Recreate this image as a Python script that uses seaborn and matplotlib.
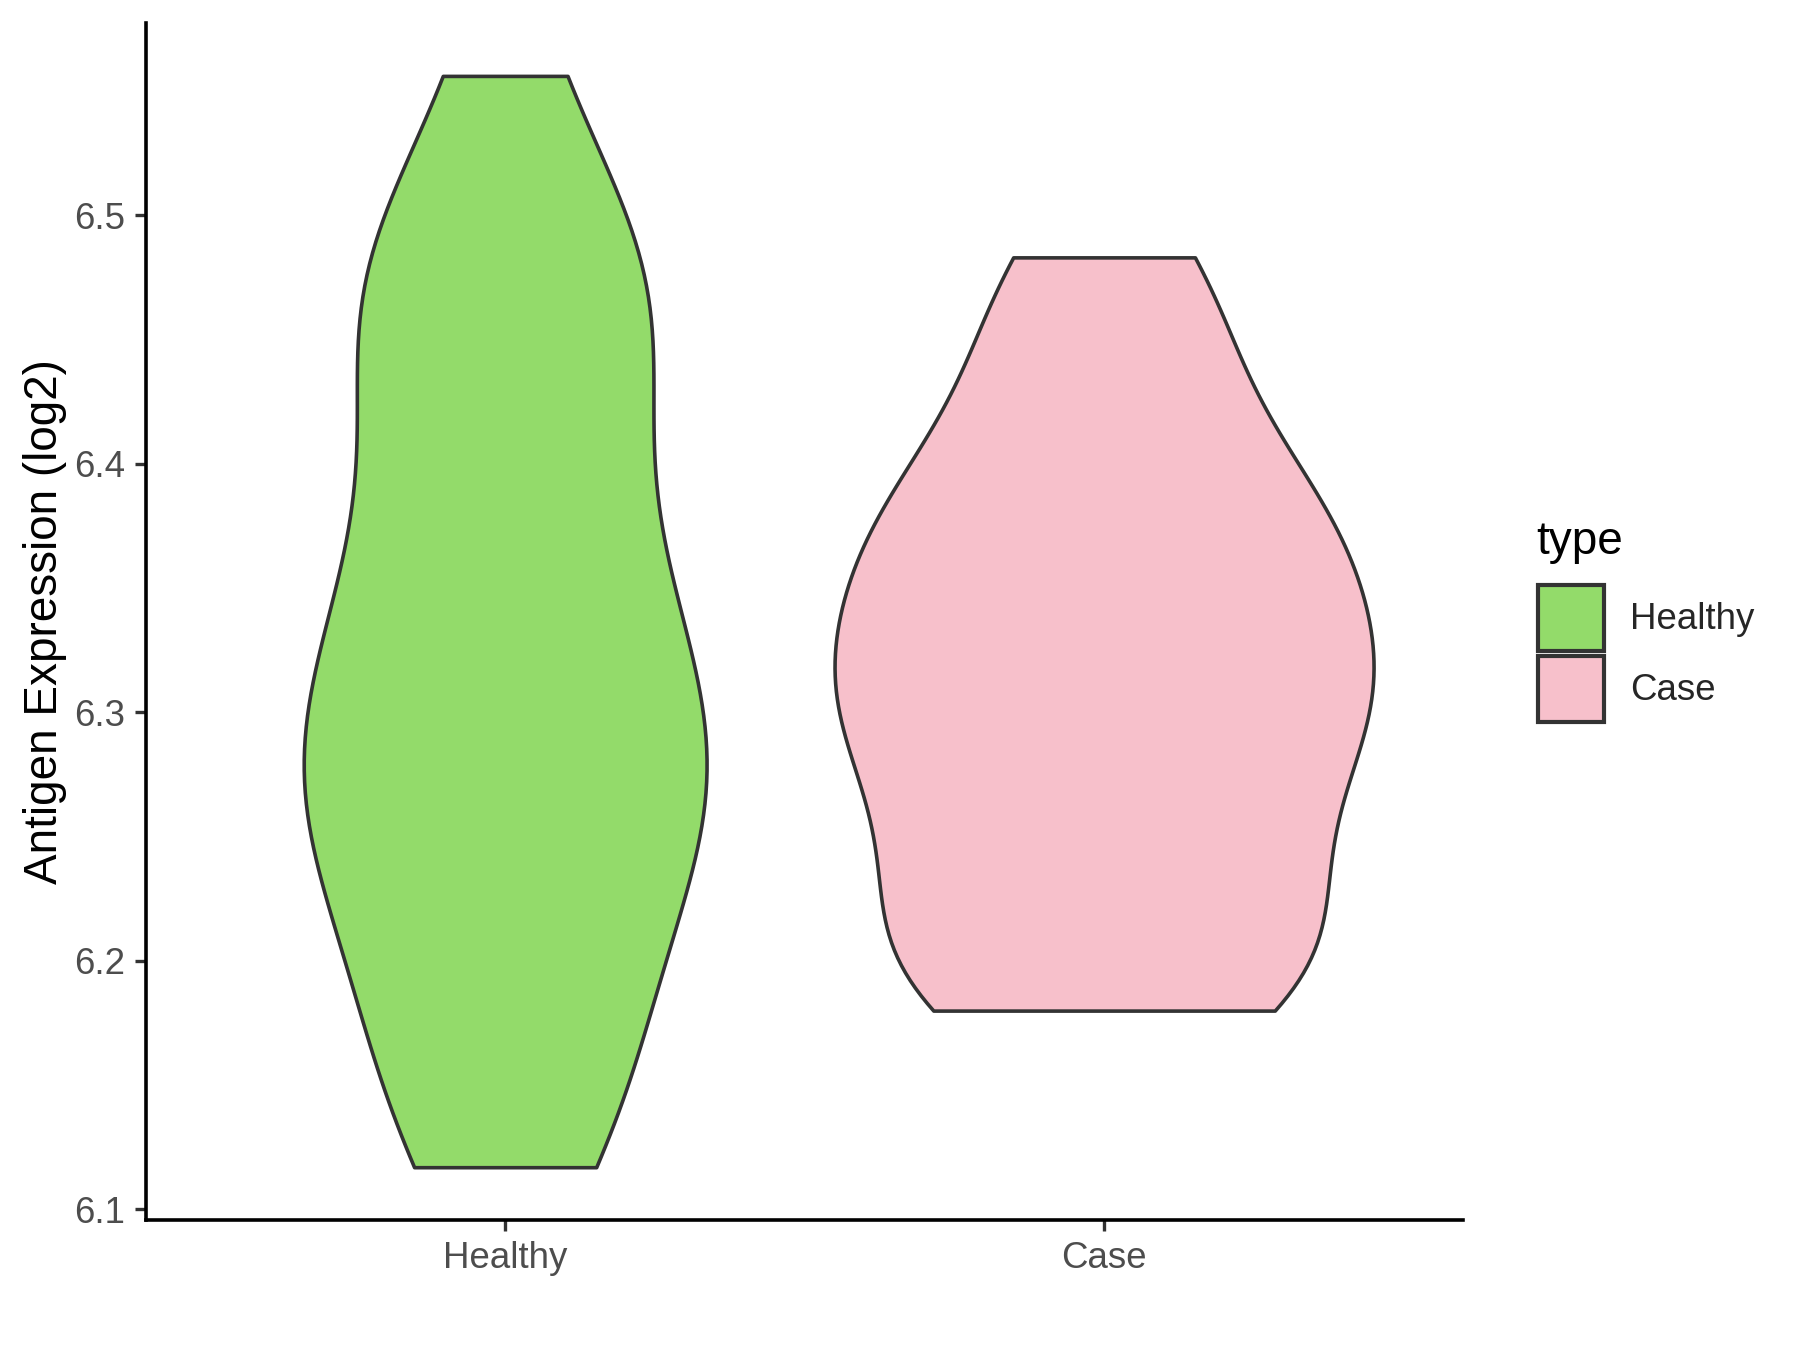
import numpy as np
import pandas as pd
import matplotlib
matplotlib.use("Agg")
import matplotlib.pyplot as plt
from matplotlib.patches import Patch
import seaborn as sns

# Expression values per group (estimated from the violin outlines)
healthy_vals = [6.117, 6.144, 6.156, 6.183, 6.235, 6.236, 6.254, 6.271, 6.283, 6.292,
                6.314, 6.340, 6.366, 6.371, 6.418, 6.471, 6.472, 6.473, 6.473, 6.556]
case_vals = [6.180, 6.194, 6.194, 6.199, 6.225, 6.251, 6.259, 6.286, 6.302, 6.309,
             6.310, 6.319, 6.349, 6.362, 6.376, 6.385, 6.390, 6.434, 6.461, 6.483]
groups = ["Healthy", "Case"]
colors = {"Healthy": "#93DB6A", "Case": "#F7C0CB"}
y_ticks = [6.1, 6.2, 6.3, 6.4, 6.5]

df = pd.DataFrame({
    "type": ["Healthy"] * len(healthy_vals) + ["Case"] * len(case_vals),
    "value": healthy_vals + case_vals,
})

sns.set_style("white")
plt.rcParams["font.family"] = ["Liberation Sans", "DejaVu Sans"]

fig = plt.figure(figsize=(9, 6.75), dpi=200)
ax = fig.add_axes([0.081, 0.096, 0.732, 0.887])

# common_norm so that both violins share one density scale (ggplot scale="area")
sns.violinplot(data=df, x="type", y="value", hue="type", order=groups,
               hue_order=groups, palette=colors, saturation=1, cut=0,
               inner=None, density_norm="area", common_norm=True,
               bw_adjust=0.82, width=0.9, linewidth=1.3, linecolor="#333333",
               legend=False, ax=ax)

ax.set_xlim(-0.6, 1.6)
ax.set_ylim(6.0956, 6.5773)
ax.set_yticks(y_ticks)
ax.set_yticklabels([f"{t:.1f}" for t in y_ticks])
ax.set_xlabel("")
ax.set_ylabel("Antigen Expression (log2)", fontsize=16.5, color="black", labelpad=2.5)

for side in ["top", "right"]:
    ax.spines[side].set_visible(False)
for side in ["left", "bottom"]:
    ax.spines[side].set_color("black")
    ax.spines[side].set_linewidth(1.3)
ax.tick_params(axis="both", direction="out", length=4, width=1.2,
               color="#333333", labelcolor="#4D4D4D", labelsize=13.2,
               left=True, bottom=True)

# legend, ggplot style: title placed on its own, square keys below
fig.text(0.8533, 0.5896, "type", fontsize=16.5, color="black", va="baseline")
handles = [Patch(facecolor=colors[g], edgecolor="#333333", linewidth=1.5, label=g)
           for g in groups]
fig.legend(handles=handles, loc="upper left", bbox_to_anchor=(0.8544, 0.5667),
           frameon=False, fontsize=13.2, handlelength=1.8, handleheight=2.4,
           labelspacing=0.12, handletextpad=0.71, borderpad=0, borderaxespad=0)

fig.savefig("out.png", dpi=200)
